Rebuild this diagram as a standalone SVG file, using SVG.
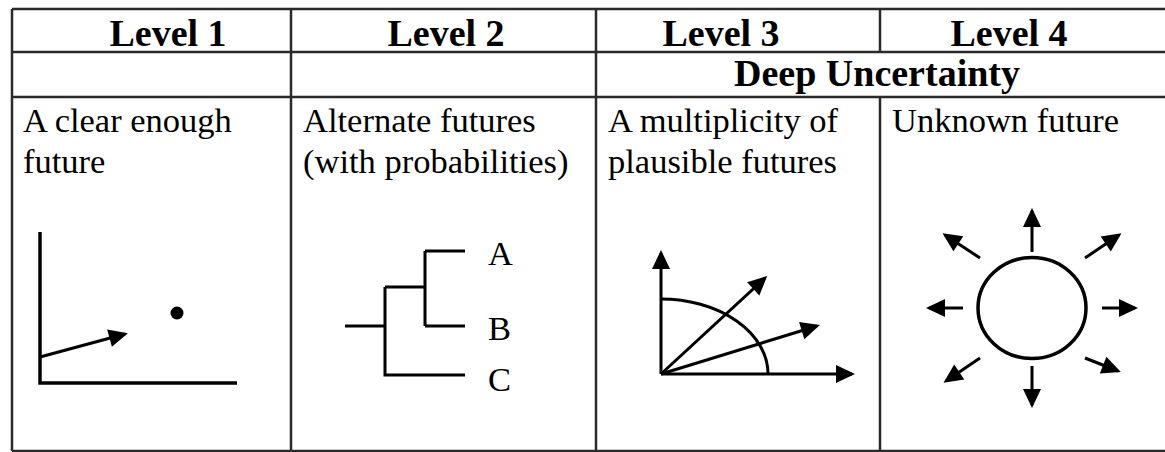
<svg xmlns="http://www.w3.org/2000/svg" width="1165" height="452" viewBox="0 0 1165 452">
<style>
.grid{stroke:#2a2a2a;stroke-width:2.5;fill:none}
.hdr{font-family:"Liberation Serif","Times New Roman",serif;font-weight:bold;font-size:38px;fill:#000;text-anchor:middle}
.body{font-family:"Liberation Serif","Times New Roman",serif;font-size:34.5px;fill:#000}
.fig{stroke:#000;stroke-width:3.5;fill:none;stroke-linecap:butt}
.fig3{stroke:#000;stroke-width:3;fill:none}
.arr{stroke:#000;stroke-width:3;fill:none;marker-end:url(#ah)}
</style>
<defs>
<marker id="ah" markerUnits="userSpaceOnUse" markerWidth="22" markerHeight="20" refX="16" refY="9" orient="auto" overflow="visible">
<path d="M0,0 L19,9 L0,18 Z" fill="#000"/>
</marker>
</defs>
<rect width="1165" height="452" fill="#fff"/>
<g id="table">
<path class="grid" d="M12,9 H1165 M12,52 H1165 M12,97 H1165 M12,451 H1165 M12,9 V451 M291,9 V451 M596,9 V451 M880,9 V52 M880,97 V451"/>
</g>
<g id="headers">
<text class="hdr" x="168" y="46">Level 1</text>
<text class="hdr" x="446" y="46">Level 2</text>
<text class="hdr" x="721" y="46">Level 3</text>
<text class="hdr" x="1009" y="46">Level 4</text>
<text class="hdr" x="877" y="86" font-size="34">Deep Uncertainty</text>
</g>
<g id="level1">
<text class="body" x="23" y="132">A clear enough</text>
<text class="body" x="23" y="173">future</text>
<path class="fig" d="M40,232 V383 H237"/>
<line class="arr" x1="40" y1="357" x2="125" y2="334"/>
<circle cx="177" cy="313" r="6.5" fill="#000"/>
</g>
<g id="level2">
<text class="body" x="303" y="132">Alternate futures</text>
<text class="body" x="303" y="173">(with probabilities)</text>
<path class="fig3" d="M345,326 H385 M385,287 V375 H465 M385,287 H425 M425,251 V326 M425,251 H465 M425,326 H465"/>
<text class="body" x="488" y="265">A</text>
<text class="body" x="488" y="340">B</text>
<text class="body" x="488" y="391">C</text>
</g>
<g id="level3">
<text class="body" x="608" y="132">A multiplicity of</text>
<text class="body" x="608" y="173">plausible futures</text>
<line class="arr" x1="661" y1="374" x2="661" y2="253"/>
<line class="arr" x1="661" y1="374" x2="852" y2="374"/>
<line class="arr" x1="661" y1="374" x2="765" y2="278"/>
<line class="arr" x1="661" y1="374" x2="817" y2="326"/>
<path class="fig3" d="M661,299 A107,75 0 0 1 768,374"/>
</g>
<g id="level4">
<text class="body" x="892" y="132">Unknown future</text>
<ellipse class="fig" cx="1032" cy="308" rx="54" ry="50.5"/>
<line class="arr" x1="1032" y1="252" x2="1032" y2="211"/>
<line class="arr" x1="1032" y1="366" x2="1032" y2="405"/>
<line class="arr" x1="963" y1="308" x2="929" y2="308"/>
<line class="arr" x1="1102" y1="308" x2="1135" y2="308"/>
<line class="arr" x1="980" y1="258" x2="945" y2="235"/>
<line class="arr" x1="1085" y1="258" x2="1119" y2="235"/>
<line class="arr" x1="980" y1="358" x2="946" y2="381"/>
<line class="arr" x1="1085" y1="358" x2="1118" y2="371"/>
</g>
</svg>
